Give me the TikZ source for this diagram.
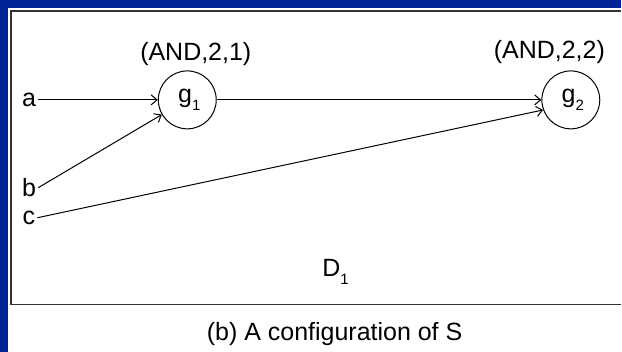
\documentclass[tikz,border=0pt]{standalone}
\usepackage{fontspec}
\setmainfont{Liberation Sans}
\usepackage{tikz}
\usetikzlibrary{arrows.meta, positioning}
\definecolor{slideblue}{HTML}{002396}
\newcommand{\lowsub}[1]{\raisebox{-0.33em}{\fontsize{15}{15}\selectfont #1}}

\begin{document}
\begin{tikzpicture}[x=1pt, y=-1pt,
    gate/.style={draw, circle, minimum size=58pt, inner sep=0pt, line width=1pt, font=\fontsize{25}{29}\selectfont},
    txt/.style={font=\fontsize{25}{29}\selectfont, inner sep=2pt},
    wire/.style={line width=1pt, -{Straight Barb[length=6pt, width=10pt]}},
]
% Background and frame
\fill[slideblue] (0,0) rectangle (622,352);
\fill[white] (8,8) rectangle (622,352);
\draw[line width=1.5pt, black!80] (622,11) -- (11,11) -- (11,305) -- (622,305);
\useasboundingbox (0,0) rectangle (622,352);

% Gates
\node[gate] (g1) at (187.5,100) {\hspace{4pt}g\lowsub{1}};
\node[gate] (g2) at (571.5,100) {\hspace{4pt}g\lowsub{2}};
\node[txt] (type1) at (196,54) {(AND,2,1)};
\node[txt] (type2) at (550,52) {(AND,2,2)};

% Inputs
\foreach \name/\y in {a/100, b/188, c/218} {
    \node[txt] (\name) at (29,\y) {\name};
}

% Wires
\draw[wire] (a.east) -- (g1.west);
\draw[wire] (b.east) -- (g1.210);
\draw[wire] (c.east) -- (g2.200);
\draw[wire] (g1.east) -- (g2.west);

\node[txt] (d1) at (336,272) {D\lowsub{1}};
\node[txt] (caption) at (335,334) {(b) A configuration of S};
\end{tikzpicture}
\end{document}
